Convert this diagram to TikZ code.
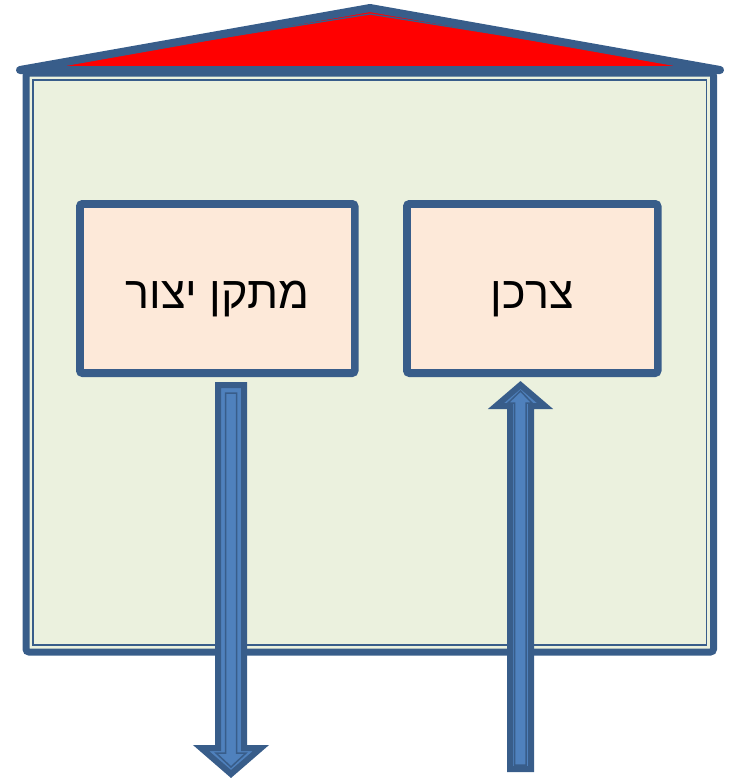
\documentclass[tikz,border=0pt]{standalone}
\usepackage{fontspec}
\setmainfont{Liberation Sans}
\newfontfamily\hebfont[Script=Hebrew]{Liberation Sans}
\TeXXeTstate=1
\usetikzlibrary{calc}
\definecolor{dkblue}{HTML}{385D8A}
\definecolor{arrfill}{HTML}{4F81BD}
\definecolor{housefill}{HTML}{EBF1DE}
\definecolor{boxfill}{HTML}{FDE9D9}
\begin{document}
\begin{tikzpicture}[x=1pt,y=-1pt,
  outerline/.style={draw=dkblue,line width=7pt},
  innerline/.style={draw=dkblue,line width=1.5pt},
  boxnode/.style={outerline,fill=boxfill,rounded corners=3pt,inner sep=0pt,
    minimum height=170pt,text height=39pt,text depth=0pt,
    font=\hebfont\fontsize{45}{54}\selectfont},
  blockarrow/.style={draw=dkblue,line width=6pt,fill=arrfill,miter limit=10}]
\useasboundingbox (0,0) rectangle (730,779);
% house body
\draw[outerline,fill=housefill,rounded corners=3pt] (26,73) rectangle (713.5,652);
\draw[innerline] (33,80) rectangle (706.5,645);
% roof
\draw[draw=dkblue,line width=8pt,fill=red,line join=round,line cap=round]
  (20,70) -- (370,8) -- (720,70) -- cycle;
\draw[innerline,line width=1.3pt] (38,67) -- (370,14) -- (702,67) -- cycle;
% boxes
\node[boxnode,minimum width=275.5pt] (src) at (217.25,288.5) {\beginR מתקן יצור\endR};
\node[boxnode,minimum width=251.5pt] (dst) at (532.25,288.5) {\beginR צרכן\endR};
\draw[innerline] ($(src.north west)+(7,7)$) rectangle ($(src.south east)+(-7,-7)$);
\draw[innerline] ($(dst.north west)+(7,7)$) rectangle ($(dst.south east)+(-7,-7)$);
% down arrow (out of the producer)
\draw[blockarrow] (218,385) -- (244,385) -- (244,748) -- (261,748) -- (231,774)
  -- (201,748) -- (218,748) -- cycle;
\draw[innerline] (225.5,393) -- (236.5,393) -- (236.5,753) -- (246,753) -- (231,767)
  -- (216,753) -- (225.5,753) -- cycle;
% up arrow (into the consumer)
\draw[blockarrow] (510,769) -- (531,769) -- (531,406) -- (545,406) -- (520.5,385)
  -- (496,406) -- (510,406) -- cycle;
\draw[innerline] (514.5,765) -- (526,765) -- (526,403) -- (532,403) -- (520.5,391)
  -- (508,403) -- (514.5,403) -- cycle;
\end{tikzpicture}
\end{document}
